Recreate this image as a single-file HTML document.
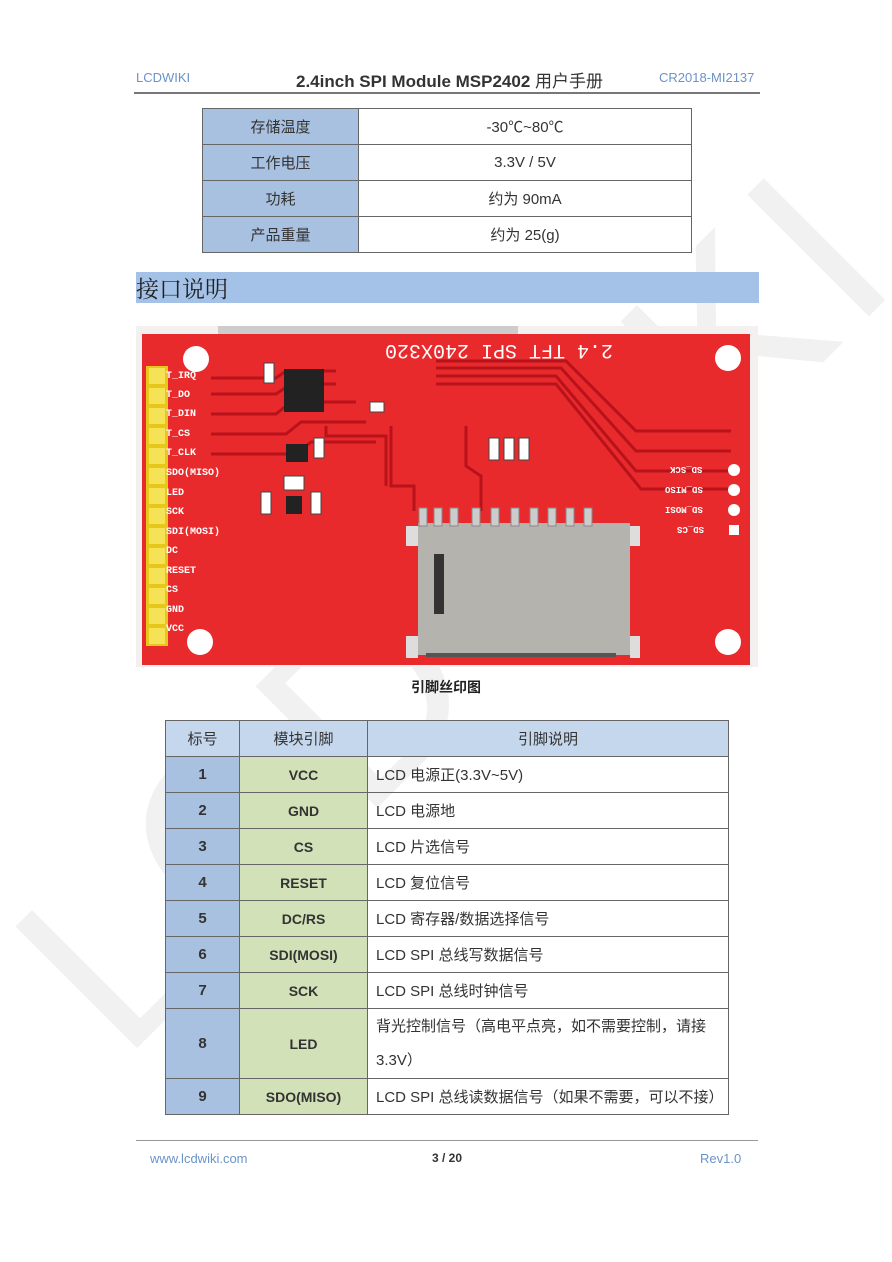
<!DOCTYPE html>
<html><head><meta charset="utf-8"><style>
*{margin:0;padding:0;box-sizing:border-box}
body{width:892px;height:1262px;background:#fff;position:relative;overflow:hidden;font-family:"Liberation Sans","Noto Sans CJK SC",sans-serif}
.a{position:absolute}
.wm{position:absolute;font-size:250px;color:#f1f1f1;transform:rotate(-45deg);transform-origin:0 0;letter-spacing:10px;white-space:nowrap;font-family:"Liberation Sans",sans-serif}
table{border-collapse:collapse;position:absolute}
td{border:1px solid #666;text-align:center;font-size:15px;color:#333}
.pcbt{position:absolute;color:#fff;font-family:"Liberation Mono",monospace;font-size:10px;font-weight:bold}
</style></head><body>
<div class="wm" style="left:-40px;top:900px">LCDWIKI</div>
<div class="a" style="left:136px;top:70px;font-size:13px;color:#6b93c9">LCDWIKI</div>
<div class="a" style="left:296px;top:67px;font-size:17px;font-weight:bold;color:#333">2.4inch SPI Module MSP2402 <span style="font-weight:normal">用户手册</span></div>
<div class="a" style="left:659px;top:70px;font-size:13px;color:#6b93c9">CR2018-MI2137</div>
<div class="a" style="left:134px;top:92px;width:626px;height:2px;background:#777"></div>

<table style="left:202px;top:108px;width:490px">
<tr style="height:36px"><td style="width:156px;background:#a9c1e0">存储温度</td><td>-30℃~80℃</td></tr>
<tr style="height:36px"><td style="background:#a9c1e0">工作电压</td><td>3.3V / 5V</td></tr>
<tr style="height:36px"><td style="background:#a9c1e0">功耗</td><td>约为 90mA</td></tr>
<tr style="height:36px"><td style="background:#a9c1e0">产品重量</td><td>约为 25(g)</td></tr>
</table>

<div class="a" style="left:136px;top:272px;width:623px;height:31px;background:#a4c2e8"></div>
<div class="a" style="left:136px;top:271px;font-size:23px;color:#222;font-family:'Noto Serif CJK SC',serif">接口说明</div>

<svg class="a" style="left:136px;top:326px" width="622" height="341" viewBox="0 0 622 341">
<rect x="0" y="0" width="622" height="341" fill="#f5f0f0"/>
<rect x="82" y="0" width="300" height="8" fill="#ccc"/>
<rect x="6" y="8" width="608" height="331" fill="#e92a2d"/>
<circle cx="60" cy="33" r="13" fill="#fff"/><circle cx="592" cy="32" r="13" fill="#fff"/>
<circle cx="64" cy="316" r="13" fill="#fff"/><circle cx="592" cy="316" r="13" fill="#fff"/>
<g stroke="#b8121a" stroke-width="3" fill="none">
<path d="M75 52 H140 L150 45 H200"/><path d="M75 68 H140 L155 58 H200"/><path d="M75 88 H140 L155 76 H220"/><path d="M75 108 H150 L165 96 H230"/><path d="M75 128 H160 L175 116 H240"/>
<path d="M330 100 V140 L345 150 V185"/><path d="M190 100 V110 H250 V160"/>
<path d="M300 35 H430 L500 105 H595"/><path d="M300 42 H425 L500 125 H595"/><path d="M300 50 H420 L500 145 H595"/><path d="M300 58 H420 L505 163 H595"/>
<path d="M255 100 V160 H278 V185"/>
</g>
<rect x="10" y="40" width="22" height="280" fill="#e7c81a"/>
<g fill="#f6e257">
<rect x="13" y="42" width="16" height="16"/><rect x="13" y="62" width="16" height="16"/><rect x="13" y="82" width="16" height="16"/><rect x="13" y="102" width="16" height="16"/><rect x="13" y="122" width="16" height="16"/><rect x="13" y="142" width="16" height="16"/><rect x="13" y="162" width="16" height="16"/><rect x="13" y="182" width="16" height="16"/><rect x="13" y="202" width="16" height="16"/><rect x="13" y="222" width="16" height="16"/><rect x="13" y="242" width="16" height="16"/><rect x="13" y="262" width="16" height="16"/><rect x="13" y="282" width="16" height="16"/><rect x="13" y="302" width="16" height="16"/>
</g>
<rect x="148" y="43" width="40" height="43" fill="#222"/>
<rect x="128" y="37" width="10" height="20" fill="#fff" stroke="#444"/>
<rect x="234" y="76" width="14" height="10" fill="#fff" stroke="#444"/>
<rect x="150" y="118" width="22" height="18" fill="#222"/>
<rect x="178" y="112" width="10" height="20" fill="#fff" stroke="#444"/>
<rect x="148" y="150" width="20" height="14" fill="#fff" stroke="#444"/>
<rect x="125" y="166" width="10" height="22" fill="#fff" stroke="#444"/>
<rect x="175" y="166" width="10" height="22" fill="#fff" stroke="#444"/>
<rect x="150" y="170" width="16" height="18" fill="#222"/>
<rect x="353" y="112" width="10" height="22" fill="#fff" stroke="#444"/><rect x="368" y="112" width="10" height="22" fill="#fff" stroke="#444"/><rect x="383" y="112" width="10" height="22" fill="#fff" stroke="#444"/>
<g fill="#fff"><circle cx="598" cy="144" r="6"/><circle cx="598" cy="164" r="6"/><circle cx="598" cy="184" r="6"/><rect x="593" y="199" width="10" height="10"/></g>
<rect x="282" y="197" width="212" height="132" fill="#b5b3ad"/>
<rect x="270" y="200" width="12" height="20" fill="#ddd"/><rect x="494" y="200" width="10" height="20" fill="#ddd"/>
<rect x="270" y="310" width="12" height="22" fill="#ddd"/><rect x="494" y="310" width="10" height="22" fill="#ddd"/>
<g fill="#ccc" stroke="#888"><rect x="283" y="182" width="8" height="18"/><rect x="298" y="182" width="8" height="18"/><rect x="314" y="182" width="8" height="18"/><rect x="336" y="182" width="8" height="18"/><rect x="355" y="182" width="8" height="18"/><rect x="375" y="182" width="8" height="18"/><rect x="394" y="182" width="8" height="18"/><rect x="412" y="182" width="8" height="18"/><rect x="430" y="182" width="8" height="18"/><rect x="448" y="182" width="8" height="18"/></g>
<rect x="298" y="228" width="10" height="60" fill="#333"/>
<rect x="290" y="327" width="190" height="4" fill="#555"/>
</svg>
<div class="pcbt" style="left:166px;top:371px">T_IRQ</div><div class="pcbt" style="left:166px;top:390px">T_DO</div><div class="pcbt" style="left:166px;top:409px">T_DIN</div><div class="pcbt" style="left:166px;top:429px">T_CS</div><div class="pcbt" style="left:166px;top:448px">T_CLK</div><div class="pcbt" style="left:166px;top:468px">SDO(MISO)</div><div class="pcbt" style="left:166px;top:488px">LED</div><div class="pcbt" style="left:166px;top:507px">SCK</div><div class="pcbt" style="left:166px;top:527px">SDI(MOSI)</div><div class="pcbt" style="left:166px;top:546px">DC</div><div class="pcbt" style="left:166px;top:566px">RESET</div><div class="pcbt" style="left:166px;top:585px">CS</div><div class="pcbt" style="left:166px;top:605px">GND</div><div class="pcbt" style="left:166px;top:624px">VCC</div>
<div class="pcbt" style="left:385px;top:338px;font-size:20px;font-weight:normal;transform:rotate(180deg)">2.4 TFT SPI 240X320</div>
<div class="pcbt" style="left:670px;top:464px;font-size:9px;transform:rotate(180deg)">SD_SCK</div><div class="pcbt" style="left:665px;top:484px;font-size:9px;transform:rotate(180deg)">SD_MISO</div><div class="pcbt" style="left:665px;top:504px;font-size:9px;transform:rotate(180deg)">SD_MOSI</div><div class="pcbt" style="left:677px;top:524px;font-size:9px;transform:rotate(180deg)">SD_CS</div>

<div class="a" style="left:0;width:892px;top:677px;text-align:center;font-size:14px;font-weight:bold;color:#222">引脚丝印图</div>

<table style="left:165px;top:720px;width:564px">
<tr style="height:36px;background:#c5d7ec"><td style="width:74px">标号</td><td style="width:128px">模块引脚</td><td>引脚说明</td></tr>
<tr style="height:36px"><td style="background:#a9c1e0;font-weight:bold">1</td><td style="background:#d3e1b8;font-weight:bold;font-size:14px">VCC</td><td style="text-align:left;padding-left:8px">LCD 电源正(3.3V~5V)</td></tr>
<tr style="height:36px"><td style="background:#a9c1e0;font-weight:bold">2</td><td style="background:#d3e1b8;font-weight:bold;font-size:14px">GND</td><td style="text-align:left;padding-left:8px">LCD 电源地</td></tr>
<tr style="height:36px"><td style="background:#a9c1e0;font-weight:bold">3</td><td style="background:#d3e1b8;font-weight:bold;font-size:14px">CS</td><td style="text-align:left;padding-left:8px">LCD 片选信号</td></tr>
<tr style="height:36px"><td style="background:#a9c1e0;font-weight:bold">4</td><td style="background:#d3e1b8;font-weight:bold;font-size:14px">RESET</td><td style="text-align:left;padding-left:8px">LCD 复位信号</td></tr>
<tr style="height:36px"><td style="background:#a9c1e0;font-weight:bold">5</td><td style="background:#d3e1b8;font-weight:bold;font-size:14px">DC/RS</td><td style="text-align:left;padding-left:8px">LCD 寄存器/数据选择信号</td></tr>
<tr style="height:36px"><td style="background:#a9c1e0;font-weight:bold">6</td><td style="background:#d3e1b8;font-weight:bold;font-size:14px">SDI(MOSI)</td><td style="text-align:left;padding-left:8px">LCD SPI 总线写数据信号</td></tr>
<tr style="height:36px"><td style="background:#a9c1e0;font-weight:bold">7</td><td style="background:#d3e1b8;font-weight:bold;font-size:14px">SCK</td><td style="text-align:left;padding-left:8px">LCD SPI 总线时钟信号</td></tr>
<tr style="height:70px"><td style="background:#a9c1e0;font-weight:bold">8</td><td style="background:#d3e1b8;font-weight:bold;font-size:14px">LED</td><td style="text-align:left;padding-left:8px;line-height:34px">背光控制信号（高电平点亮，如不需要控制，请接3.3V）</td></tr>
<tr style="height:36px"><td style="background:#a9c1e0;font-weight:bold">9</td><td style="background:#d3e1b8;font-weight:bold;font-size:14px">SDO(MISO)</td><td style="text-align:left;padding-left:8px;white-space:nowrap">LCD SPI 总线读数据信号（如果不需要，可以不接）</td></tr>
</table>

<div class="a" style="left:136px;top:1140px;width:622px;height:1px;background:#999"></div>
<div class="a" style="left:150px;top:1151px;font-size:13px;color:#6b93c9">www.lcdwiki.com</div>
<div class="a" style="left:432px;top:1151px;font-size:12px;font-weight:bold;color:#333">3 / 20</div>
<div class="a" style="left:700px;top:1151px;font-size:13px;color:#6b93c9">Rev1.0</div>
</body></html>
